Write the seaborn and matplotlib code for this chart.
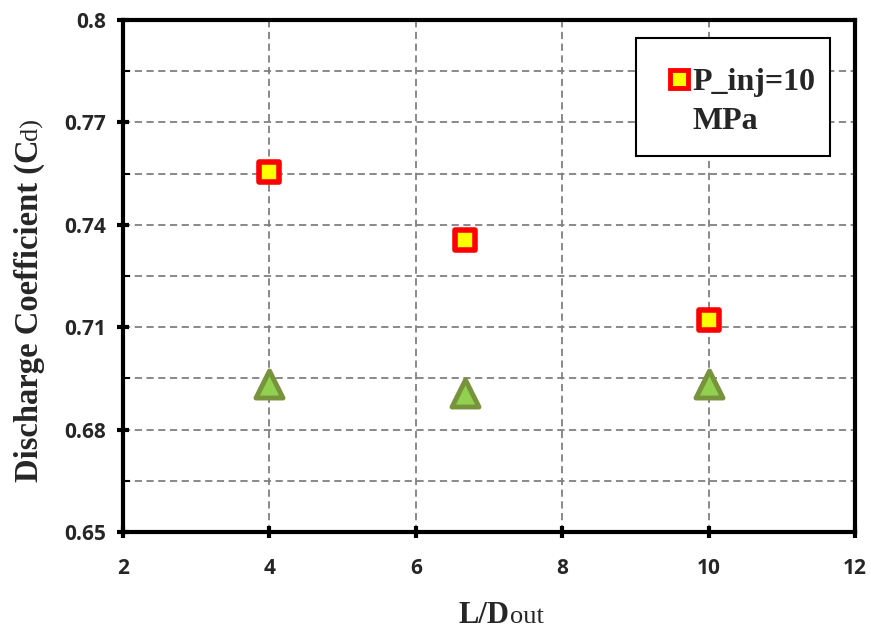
import matplotlib
matplotlib.use("Agg")
import matplotlib.pyplot as plt
import seaborn as sns
import pandas as pd
from matplotlib.ticker import FixedLocator
from matplotlib.lines import Line2D
from matplotlib.patches import Rectangle

sns.set_style("white")

ld_ratio = [4.0, 6.67, 10.0]
cd_pinj10 = [0.7555, 0.7355, 0.7121]
cd_second = [0.6933, 0.6907, 0.6933]
legend_lines = ["P_inj=10", "MPa"]
y_ticks = [0.65, 0.68, 0.71, 0.74, 0.77, 0.8]
y_minor = [0.665, 0.695, 0.725, 0.755, 0.785]
x_ticks = [2, 4, 6, 8, 10, 12]

df1 = pd.DataFrame({"ld": ld_ratio, "cd": cd_pinj10})
df2 = pd.DataFrame({"ld": ld_ratio, "cd": cd_second})

W, H = 871, 632
fig = plt.figure(figsize=(W / 100, H / 100), dpi=100)
ax = fig.add_axes([123 / W, 1 - 532 / H, (855 - 123) / W, (532 - 20) / H])

sns.scatterplot(data=df1, x="ld", y="cd", marker="s", s=220, color="#FFFF00",
                edgecolor="#FF0000", linewidth=4, ax=ax, zorder=5, legend=False)
sns.scatterplot(data=df2, x="ld", y="cd", marker="^", s=380, color="#92D050",
                edgecolor="#77933C", linewidth=3.5, ax=ax, zorder=5, legend=False)

ax.set_xlim(2, 12)
ax.set_ylim(0.65, 0.8)
ax.xaxis.set_major_locator(FixedLocator(x_ticks))
ax.yaxis.set_major_locator(FixedLocator(y_ticks))
ax.yaxis.set_minor_locator(FixedLocator(y_minor))
ax.set_xticklabels([str(v) for v in x_ticks], fontfamily="Open Sans", fontweight="bold", fontsize=15)
ax.set_yticklabels([f"{v:g}" for v in y_ticks], fontfamily="Open Sans", fontweight="bold", fontsize=15)
ax.set_xlabel("")
ax.set_ylabel("")

grid_kw = dict(color="#808080", linestyle=(0, (4, 2.5)), linewidth=1.3)
ax.grid(True, which="major", axis="both", **grid_kw)
ax.grid(True, which="minor", axis="y", **grid_kw)
ax.set_axisbelow(True)

for sp in ax.spines.values():
    sp.set_visible(True)
    sp.set_color("black")
    sp.set_linewidth(3)

ax.tick_params(axis="both", which="major", direction="inout", length=9, width=3,
               color="black", left=True, bottom=True)
ax.tick_params(axis="y", which="major", pad=8)
ax.tick_params(axis="x", which="major", pad=14)
ax.tick_params(axis="y", which="minor", direction="in", length=5, width=1.5,
               color="black", left=True)

# legend: frame box drawn to match the reference, entries centred inside it
box_l, box_r, box_t, box_b = 636, 830, 38, 156
fig.add_artist(Rectangle((box_l / W, 1 - box_b / H), (box_r - box_l) / W, (box_b - box_t) / H,
                         transform=fig.transFigure, facecolor="white", edgecolor="black",
                         linewidth=1.5, zorder=6))
handles = [Line2D([], [], linestyle="none", marker="s", markersize=13.5,
                  markerfacecolor="#FFFF00", markeredgecolor="#FF0000", markeredgewidth=3.5),
           Line2D([], [], linestyle="none", marker=None)]
leg = fig.legend(handles, legend_lines, loc="center",
                 bbox_to_anchor=(740 / W, 1 - 102 / H),
                 borderaxespad=0, frameon=False,
                 prop={"family": "Liberation Serif", "weight": "bold", "size": 23},
                 handletextpad=0.0, borderpad=0.0, labelspacing=0.3, handlelength=0.9)
leg.set_zorder(7)

# composite axis labels (bold main part + smaller regular part)
fig.canvas.draw()
renderer = fig.canvas.get_renderer()


def text_width(s, **kw):
    t = fig.text(0, 0, s, **kw)
    w = t.get_window_extent(renderer).width
    t.remove()
    return w


xa = dict(family="Liberation Serif", fontweight="bold", fontsize=22)
xb = dict(family="Liberation Serif", fontweight="normal", fontsize=19)
wa = text_width("L/D", **xa)
wb = text_width("out", **xb)
cx = 501
x0 = cx - (wa + wb) / 2
base_y = H - 623
fig.text(x0 / W, base_y / H, "L/D", ha="left", va="baseline", **xa)
fig.text((x0 + wa) / W, base_y / H, "out", ha="left", va="baseline", **xb)

ya = dict(family="Liberation Serif", fontweight="bold", fontsize=23.5)
yb = dict(family="Liberation Serif", fontweight="normal", fontsize=19)
pa = "Discharge Coefficient (C"
pb = "d)"
la = text_width(pa, **ya)
lb = text_width(pb, **yb)
cy = H - 300
y0 = cy - (la + lb) / 2
base_x = 38
fig.text(base_x / W, y0 / H, pa, rotation=90, rotation_mode="anchor",
         ha="left", va="baseline", **ya)
fig.text(base_x / W, (y0 + la) / H, pb, rotation=90, rotation_mode="anchor",
         ha="left", va="baseline", **yb)

fig.savefig("out.png", dpi=100)
